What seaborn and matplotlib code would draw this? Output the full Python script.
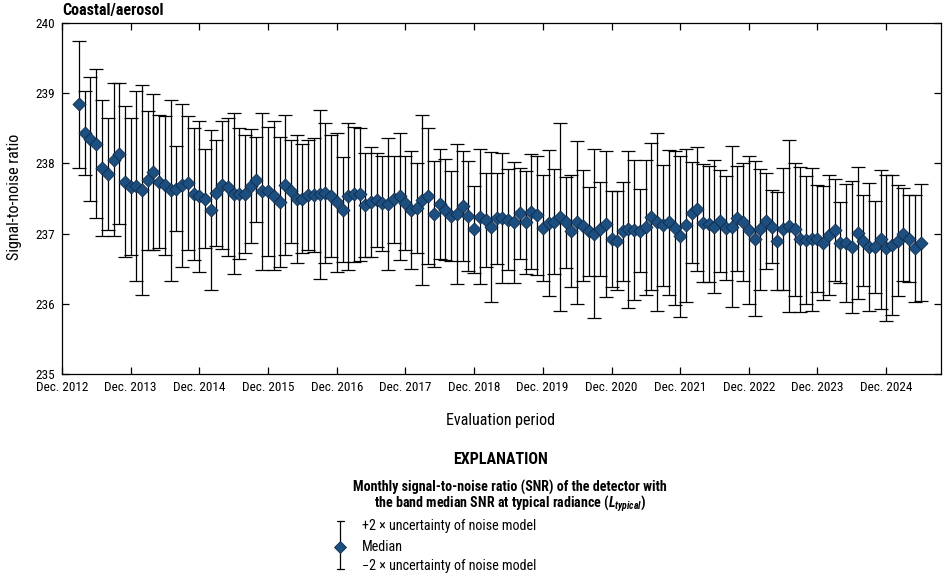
import matplotlib
matplotlib.use("Agg")
import matplotlib.pyplot as plt
from matplotlib import font_manager
from matplotlib.lines import Line2D
import numpy as np
import pandas as pd
import seaborn as sns

# ---------------- data ----------------
first_month = "2013-03-01"
median_snr = [
    238.84, 238.43, 238.35, 238.28, 237.94, 237.85, 238.05, 238.14, 237.74, 237.67,
    237.68, 237.62, 237.76, 237.88, 237.74, 237.69, 237.62, 237.64, 237.69, 237.72,
    237.57, 237.53, 237.50, 237.34, 237.58, 237.69, 237.66, 237.57, 237.57, 237.57,
    237.68, 237.77, 237.60, 237.60, 237.54, 237.45, 237.69, 237.60, 237.49, 237.50,
    237.55, 237.55, 237.56, 237.58, 237.53, 237.45, 237.34, 237.53, 237.56, 237.56,
    237.41, 237.45, 237.48, 237.43, 237.42, 237.49, 237.53, 237.43, 237.34, 237.36,
    237.48, 237.54, 237.28, 237.42, 237.34, 237.25, 237.28, 237.39, 237.25, 237.06,
    237.24, 237.19, 237.09, 237.22, 237.22, 237.20, 237.16, 237.29, 237.16, 237.31,
    237.26, 237.08, 237.15, 237.17, 237.24, 237.16, 237.04, 237.16, 237.11, 237.03,
    237.00, 237.06, 237.14, 236.92, 236.90, 237.03, 237.06, 237.05, 237.04, 237.09,
    237.24, 237.17, 237.12, 237.16, 237.08, 236.96, 237.12, 237.30, 237.35, 237.15,
    237.14, 237.10, 237.18, 237.08, 237.10, 237.22, 237.17, 237.05, 236.93, 237.06,
    237.18, 237.10, 236.89, 237.06, 237.11, 237.06, 236.92, 236.91, 236.92, 236.93,
    236.87, 236.98, 237.05, 236.87, 236.87, 236.81, 237.01, 236.90, 236.81, 236.81,
    236.92, 236.79, 236.84, 236.90, 236.99, 236.93, 236.79, 236.87,
]
two_sigma = [
    0.91, 0.60, 0.88, 1.06, 0.97, 0.80, 1.09, 1.00, 1.08, 0.98,
    1.35, 1.49, 0.99, 1.11, 0.95, 0.99, 1.29, 0.61, 1.16, 0.95,
    0.94, 1.08, 0.70, 1.14, 0.76, 0.91, 0.98, 1.15, 0.93, 0.84,
    0.81, 0.61, 1.12, 0.92, 1.06, 0.92, 1.00, 0.73, 0.91, 0.78,
    0.78, 0.81, 1.20, 1.00, 0.87, 0.99, 0.75, 1.05, 0.96, 0.95,
    0.74, 0.79, 0.67, 0.68, 0.94, 0.62, 0.91, 0.67, 0.84, 0.64,
    1.21, 0.97, 0.75, 0.78, 0.72, 0.64, 1.00, 0.78, 0.78, 0.62,
    0.96, 0.67, 1.07, 0.65, 0.93, 0.72, 0.86, 0.65, 0.73, 0.82,
    0.85, 0.75, 1.04, 0.75, 1.34, 0.65, 0.80, 1.16, 0.79, 0.64,
    1.20, 0.67, 1.04, 0.68, 0.70, 0.71, 1.12, 1.00, 0.59, 0.96,
    1.05, 1.27, 0.86, 1.03, 1.09, 1.15, 1.09, 0.72, 0.88, 0.84,
    0.83, 0.95, 0.73, 0.74, 1.15, 0.75, 0.84, 1.05, 1.10, 0.86,
    0.69, 0.52, 0.70, 0.87, 1.22, 0.95, 1.03, 0.91, 1.02, 0.76,
    0.81, 0.85, 0.73, 0.58, 0.84, 0.94, 0.94, 0.65, 0.91, 0.65,
    0.99, 1.04, 1.00, 0.79, 0.66, 0.62, 0.76, 0.83,
]
tick_years = list(range(2012, 2025))
tick_labels = [f"Dec. {y}" for y in tick_years]
y_ticks = [235, 236, 237, 238, 239, 240]

dates = pd.date_range(first_month, periods=len(median_snr), freq="MS")
df = pd.DataFrame({"date": dates, "median": median_snr, "err": two_sigma})

# ---------------- style ----------------
available = {f.name for f in font_manager.fontManager.ttflist}
narrow = next((f for f in ["Liberation Sans Narrow", "Roboto Condensed",
                           "Liberation Sans"] if f in available), "DejaVu Sans")

sns.set_theme(style="ticks")
plt.rcParams["font.family"] = [narrow, "DejaVu Sans"]
plt.rcParams["mathtext.fontset"] = "custom"
plt.rcParams["mathtext.it"] = f"{narrow}:italic:bold"
plt.rcParams["mathtext.rm"] = f"{narrow}:bold"
plt.rcParams["text.color"] = "black"
plt.rcParams["axes.labelcolor"] = "black"
plt.rcParams["xtick.color"] = "black"
plt.rcParams["ytick.color"] = "black"
plt.rcParams["axes.edgecolor"] = "black"

W, H = 950, 580
def fx(x): return x / W
def fy(y): return 1 - y / H

fig = plt.figure(figsize=(9.5, 5.8), dpi=100)
ax = fig.add_axes([fx(62), fy(374), fx(941) - fx(62), fy(23) - fy(374)])

ax.errorbar(df["date"], df["median"], yerr=df["err"], fmt="none",
            ecolor="black", elinewidth=0.9, capsize=5, capthick=0.9, zorder=2)
sns.scatterplot(data=df, x="date", y="median", marker="D", s=44,
                color="#1d4e80", edgecolor="#0e2c4c", linewidth=0.6,
                ax=ax, zorder=3, legend=False)

ax.set_xlim(pd.Timestamp("2012-12-01"), pd.Timestamp("2025-09-18"))
ax.set_ylim(235, 240)
ax.set_xticks([pd.Timestamp(f"{y}-12-01") for y in tick_years])
ax.set_xticklabels(tick_labels)
ax.set_yticks(y_ticks)
ax.set_yticklabels([str(v) for v in y_ticks])
ax.tick_params(direction="in", top=True, right=True, length=5, width=0.9,
               labelsize=9.5, pad=5)
for s in ax.spines.values():
    s.set_linewidth(0.9)
    s.set_visible(True)
ax.set_xlabel("")
ax.set_ylabel("")

# ---------------- texts ----------------
fig.text(fx(62), fy(11), "Coastal/aerosol", weight="bold", size=11.5,
         ha="left", va="center")
fig.text(fx(15), fy(197), "Signal-to-noise ratio", rotation=90, size=11.5,
         ha="center", va="center")
fig.text(fx(501), fy(420), "Evaluation period", size=11.5, ha="center", va="center")

fig.text(fx(501), fy(460), "EXPLANATION", weight="bold", size=11.5,
         ha="center", va="center")
fig.text(fx(510), fy(487), "Monthly signal-to-noise ratio (SNR) of the detector with",
         weight="bold", size=10.1, ha="center", va="center")
fig.text(fx(510), fy(504), r"the band median SNR at typical radiance ($L_{typical}$)",
         weight="bold", size=10.1, ha="center", va="center")

# legend key
kx = 340
fig.add_artist(Line2D([fx(kx), fx(kx)], [fy(521), fy(569)], color="black",
                      lw=0.9, transform=fig.transFigure))
for yy in (521, 569):
    fig.add_artist(Line2D([fx(kx - 3.5), fx(kx + 3.5)], [fy(yy), fy(yy)],
                          color="black", lw=0.9, transform=fig.transFigure))
fig.add_artist(Line2D([fx(kx)], [fy(547)], marker="D", markersize=6.6,
                      markerfacecolor="#1d4e80", markeredgecolor="#0e2c4c",
                      markeredgewidth=0.6, linestyle="none",
                      transform=fig.transFigure))
fig.text(fx(362), fy(526), "+2 × uncertainty of noise model", size=10.2,
         ha="left", va="center")
fig.text(fx(362), fy(547), "Median", size=10.2, ha="left", va="center")
fig.text(fx(362), fy(566), "\u22122 × uncertainty of noise model", size=10.2,
         ha="left", va="center")

fig.savefig("out.png", dpi=100)
